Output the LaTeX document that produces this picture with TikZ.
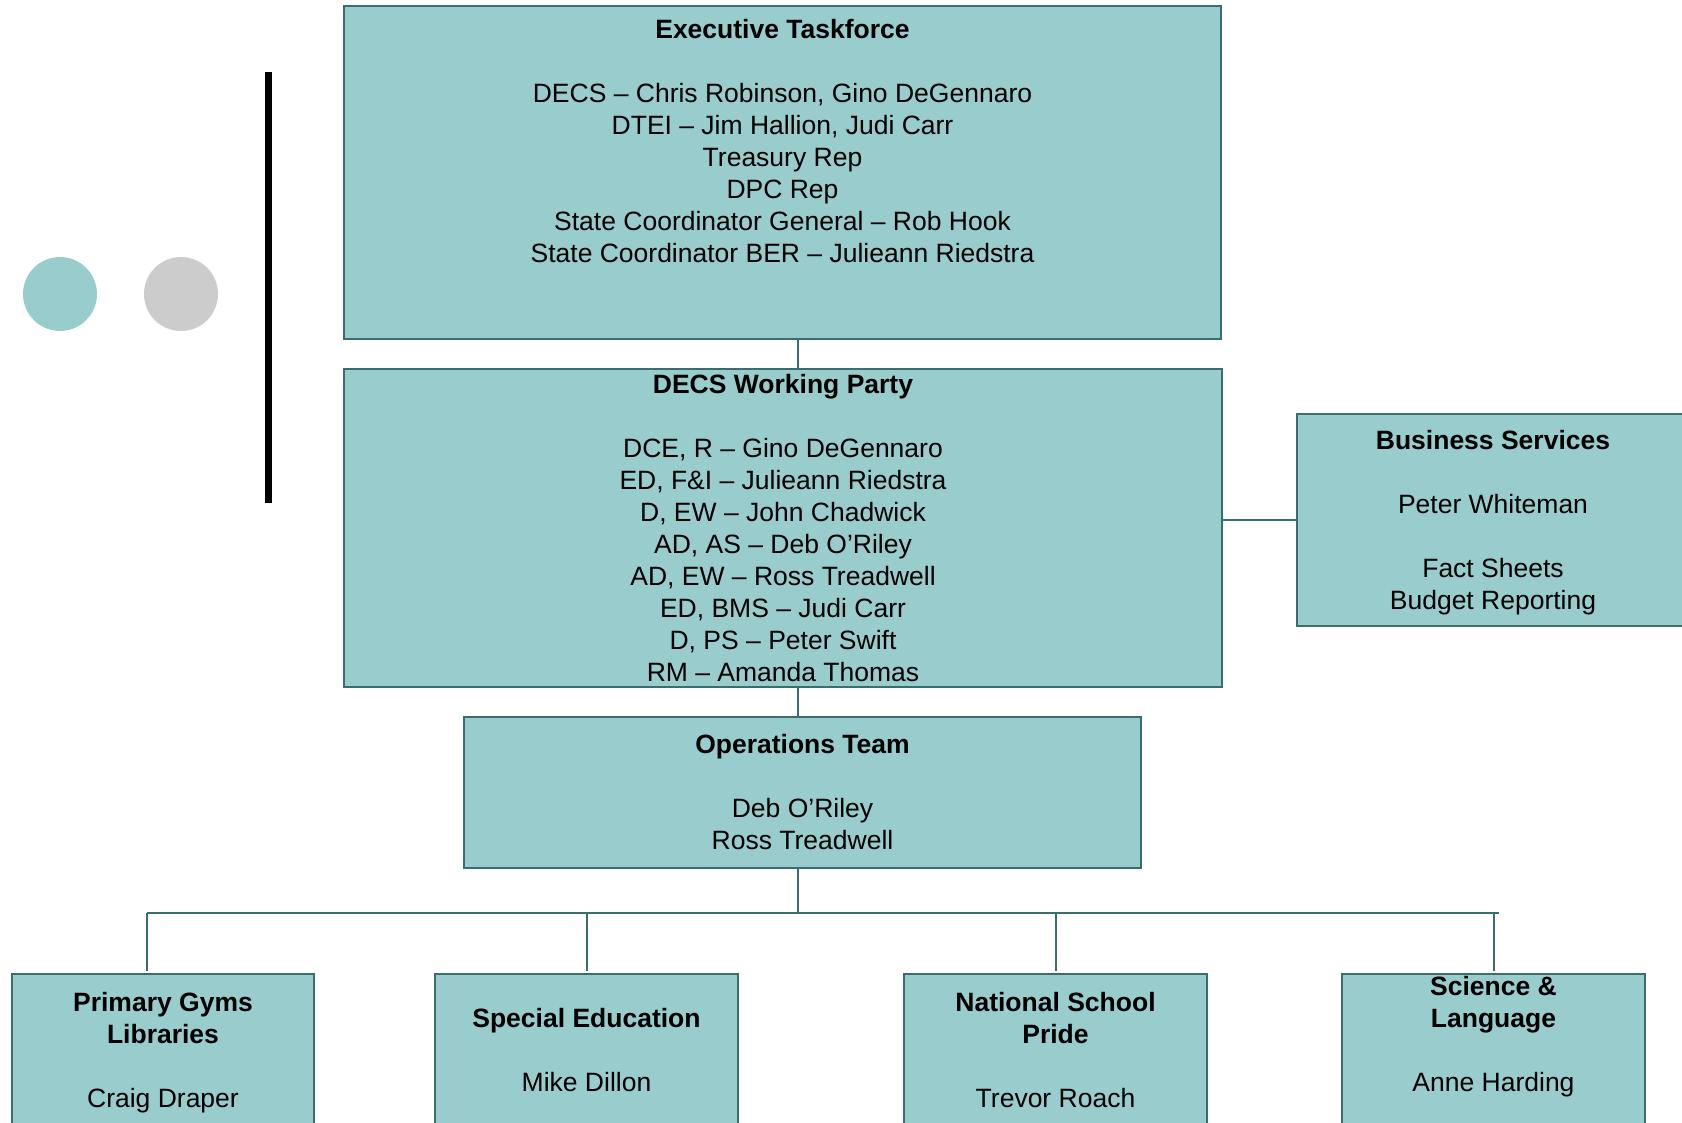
\documentclass[tikz,border=0pt]{standalone}
\usepackage{fontspec}
\setmainfont{Liberation Sans}
\usepackage{tikz}
\usetikzlibrary{calc}

\definecolor{boxfill}{RGB}{153,204,204}
\definecolor{boxline}{RGB}{58,110,110}
\definecolor{dotgrey}{RGB}{204,204,204}

\begin{document}
\begin{tikzpicture}[x=1pt, y=-1pt,
        box/.style={draw=boxline, fill=boxfill, line width=2pt, outer sep=0pt, inner sep=0pt, anchor=north west},
        txt/.style={anchor=north, inner sep=0pt, align=center, font=\fontsize{26.5}{32}\selectfont},
        link/.style={draw=boxline, line width=2pt}]
        \useasboundingbox (0,0) rectangle (1682,1123);
        % left decoration
        \fill[boxfill] (60,294) circle [radius=37pt];
        \fill[dotgrey] (181,294) circle [radius=37pt];
        \draw[line width=7pt] (268,72) -- (268,503);

        % boxes
        \node[box, minimum width=877pt, minimum height=333pt] (exec) at (344,6) {};
        \node[box, minimum width=878pt, minimum height=318pt] (wp) at (344,369) {};
        \node[box, minimum width=392pt, minimum height=212pt] (bs) at (1297,414) {};
        \node[box, minimum width=677pt, minimum height=151pt] (ops) at (464,717) {};
        \node[box, minimum width=302pt, minimum height=160pt] (gyms) at (12,974) {};
        \node[box, minimum width=303pt, minimum height=160pt] (sped) at (435,974) {};
        \node[box, minimum width=303pt, minimum height=160pt] (pride) at (904,974) {};
        \node[box, minimum width=303pt, minimum height=160pt] (scilang) at (1342,974) {};

        % texts
        \node[txt] (execT) at ([yshift=-13pt]exec.north) {\textbf{Executive Taskforce}\\[32pt]
            DECS – Chris Robinson, Gino DeGennaro\\ DTEI – Jim Hallion, Judi Carr\\
            Treasury Rep\\ DPC Rep\\ State Coordinator General – Rob Hook\\
            State Coordinator BER – Julieann Riedstra};
        \node[txt] (wpT) at ([yshift=-5pt]wp.north) {\textbf{DECS Working Party}\\[32pt]
            DCE, R – Gino DeGennaro\\ ED, F\&I – Julieann Riedstra\\ D, EW – John Chadwick\\
            AD, AS – Deb O’Riley\\ AD, EW – Ross Treadwell\\ ED, BMS – Judi Carr\\
            D, PS – Peter Swift\\ RM – Amanda Thomas};
        \node[txt] (bsT) at ([yshift=-16pt]bs.north) {\textbf{Business Services}\\[32pt]
            Peter Whiteman\\[32pt] Fact Sheets\\ Budget Reporting};
        \node[txt] (opsT) at ([yshift=-17pt]ops.north) {\textbf{Operations Team}\\[32pt]
            Deb O’Riley\\ Ross Treadwell};
        \node[txt] (gymsT) at ([yshift=-18pt]gyms.north) {\textbf{Primary Gyms}\\ \textbf{Libraries}\\[32pt] Craig Draper};
        \node[txt] (spedT) at ([yshift=-34pt]sped.north) {\textbf{Special Education}\\[32pt] Mike Dillon};
        \node[txt] (prideT) at ([yshift=-18pt]pride.north) {\textbf{National School}\\ \textbf{Pride}\\[32pt] Trevor Roach};
        \node[txt] (scilangT) at ([yshift=-2pt]scilang.north) {\textbf{Science \&}\\ \textbf{Language}\\[32pt] Anne Harding};

        % connectors
        \coordinate (trunk) at (798,0);
        \coordinate (bus) at (0,913);
        \coordinate (busend) at (1499,913);
        \draw[link] (exec.south -| trunk) -- (wp.north -| trunk);
        \draw[link] (wp.south -| trunk) -- (ops.north -| trunk);
        \draw[link] (bs.west -| wp.east) -- (bs.west);
        \draw[link] (ops.south -| trunk) -- (trunk |- bus);
        \draw[link] ([xshift=-16pt]gyms.north |- bus) -- (busend);
        \foreach \n/\dx in {gyms/-16, sped/0, pride/0, scilang/0}
            \draw[link] ([xshift=\dx pt]\n.north |- bus) -- ([xshift=\dx pt, yshift=3pt]\n.north);
    \end{tikzpicture}
\end{document}
